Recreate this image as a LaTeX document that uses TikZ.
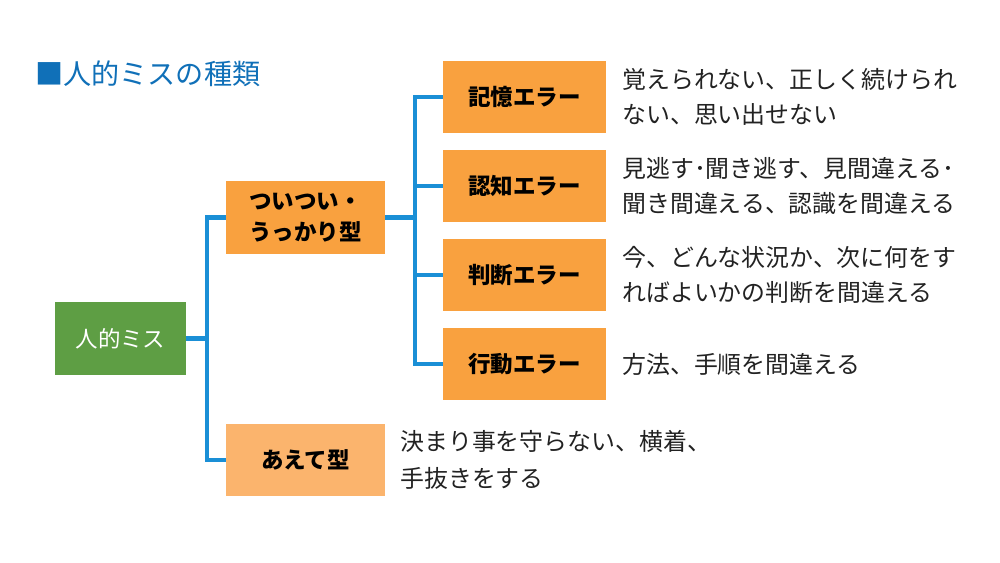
\documentclass[tikz,border=0pt]{standalone}
\usepackage{fontspec}
\setmainfont{Noto Sans CJK JP}
\usepackage{tikz}
\usetikzlibrary{positioning}
\definecolor{boxorange}{HTML}{F9A13F}
\definecolor{boxlight}{HTML}{FBB46D}
\definecolor{boxgreen}{HTML}{5E9E44}
\definecolor{linkblue}{HTML}{1A8FD6}
\definecolor{titleblue}{HTML}{1070B8}
\definecolor{desctext}{HTML}{222222}
\tikzset{
  errbox/.style={fill=boxorange, minimum width=4.075cm, minimum height=1.8cm, inner sep=0pt,
    align=center, font=\bfseries\fontsize{16}{22}\selectfont},
  typebox/.style={errbox, minimum width=3.975cm},
  rootbox/.style={fill=boxgreen, text=white, minimum width=3.275cm, minimum height=1.825cm, inner sep=0pt,
    font=\fontsize{16}{20}\selectfont},
  desc/.style={anchor=west, align=left, inner sep=0pt, text=desctext,
    font=\fontsize{17}{24.9}\selectfont},
  link/.style={draw=linkblue, line width=2.9pt}
}

\begin{document}
\begin{tikzpicture}[x=0.025cm, y=-0.025cm]
\useasboundingbox (0,0) rectangle (1000,563);
\node[anchor=west, inner sep=0pt, text=titleblue, font=\fontsize{20}{24}\selectfont] (title) at (35,74) {■人的ミスの種類};
% tree boxes
\node[rootbox] (human) at (120.5,338.5) {人的ミス};
\node[typebox] (tsui) at (305.5,217.5) {ついつい・\\うっかり型};
\node[typebox, fill=boxlight] (aete) at (305.5,460) {あえて型};
\node[errbox] (mem) at (524.5,97) {記憶エラー};
\node[errbox] (cog) at (524.5,186) {認知エラー};
\node[errbox] (judge) at (524.5,275) {判断エラー};
\node[errbox] (act) at (524.5,364) {行動エラー};
% descriptions
\node[desc] (memtext) at (622,97) {覚えられない、正しく続けられ\\ない、思い出せない};
\node[desc] (cogtext) at (622,186) {見逃す･聞き逃す、見間違える･\\聞き間違える、認識を間違える};
\node[desc] (judgetext) at (622,275) {今、どんな状況か、次に何をす\\ればよいかの判断を間違える};
\node[desc] (acttext) at (622,364) {方法、手順を間違える};
\node[desc, font=\fontsize{17}{26}\selectfont] (aetetext) at (400,460) {決まり事を守らない、横着、\\手抜きをする};
% connectors
\coordinate (j1) at (207,338.5);
\coordinate (j2) at (415,217.5);
\draw[link] (human.east) -- (j1);
\draw[link] (j1) |- (tsui.west);
\draw[link] (j1) |- (aete.west);
\draw[link] (tsui.east) -- (j2);
\foreach \n in {mem,cog,judge,act}
  \draw[link] (j2) |- (\n.west);
\end{tikzpicture}
\end{document}
